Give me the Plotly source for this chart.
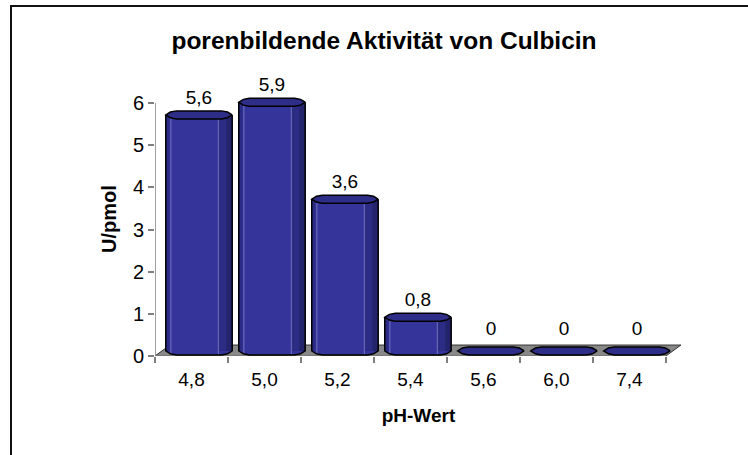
import plotly.graph_objects as go

categories = ["4,8", "5,0", "5,2", "5,4", "5,6", "6,0", "7,4"]
values = [5.6, 5.9, 3.6, 0.8, 0, 0, 0]
value_labels = ["5,6", "5,9", "3,6", "0,8", "0", "0", "0"]
y_ticks = [0, 1, 2, 3, 4, 5, 6]

title_text = "porenbildende Aktivität von Culbicin"
x_title = "pH-Wert"
y_title = "U/pmol"

W, H = 748, 455
L, R, T, B = 155, 66, 82, 99
PW, PH = W - L - R, H - T - B

n = len(categories)
idx = list(range(n))
x_lo, x_hi = -0.5, n - 0.5
DX, DY = 0.205, 0.26          # depth of the 3D floor (data units)
CDX, CDY = DX / 2, 0.12       # cylinder centre offset in depth
HW = 0.455                    # cylinder half width
EH = 0.095                    # cap half height
y_max = 6.5

FONT = "Liberation Sans, Arial, sans-serif"
MAIN = "#34349a"
DARK1 = "#2c2c84"
DARK2 = "#24246c"
EDGE = "#2b2b86"
CAP = "#2e2e88"
HIL = "#7272c0"

# cap polygon (flattened octagon) in unit coordinates
unit = [(1, 0), (0.86, 0.72), (0.68, 1), (-0.68, 1), (-0.86, 0.72), (-1, 0),
        (-0.86, -0.72), (-0.68, -1), (0.68, -1), (0.86, -0.72), (1, 0)]
lower = [(-1, 0), (-0.86, -0.72), (-0.68, -1), (0.68, -1), (0.86, -0.72), (1, 0)]

fig = go.Figure()

# body of the cylinders
fig.add_trace(go.Bar(x=idx, y=values, base=CDY, offset=CDX - HW, width=2 * HW,
                     marker=dict(color=MAIN, line=dict(width=0)), hoverinfo="skip"))
fig.add_trace(go.Bar(x=idx, y=values, base=CDY, offset=CDX - HW, width=0.05,
                     marker=dict(color=EDGE, line=dict(width=0)), hoverinfo="skip"))
fig.add_trace(go.Bar(x=idx, y=values, base=CDY, offset=CDX + HW - 0.19, width=0.19,
                     marker=dict(color=DARK1, line=dict(width=0)), hoverinfo="skip"))
fig.add_trace(go.Bar(x=idx, y=values, base=CDY, offset=CDX + HW - 0.08, width=0.08,
                     marker=dict(color=DARK2, line=dict(width=0)), hoverinfo="skip"))

# lower rounded edge fill, outline, highlights, caps
fill_x, fill_y = [], []
out_x, out_y = [], []
hi_x, hi_y = [], []
cap_x, cap_y = [], []
for i, v in zip(idx, values):
    cx = i + CDX
    top = v + CDY
    cap_x += [cx + u * HW for u, _ in unit] + [None]
    cap_y += [top + w * EH for _, w in unit] + [None]
    if v <= 0:
        continue
    fill_x += [cx + u * HW for u, _ in lower] + [None]
    fill_y += [CDY + w * EH for _, w in lower] + [None]
    out_x += [cx - HW, cx - HW] + [cx + u * HW for u, _ in lower] + [cx + HW, None]
    out_y += [top, CDY] + [CDY + w * EH for _, w in lower] + [top, None]
    for hx in (cx - HW + 0.07, cx + HW - 0.19):
        hi_x += [hx, hx, None]
        hi_y += [CDY - EH * 0.85, top - EH * 0.9, None]

fig.add_trace(go.Scatter(x=fill_x, y=fill_y, mode="lines", fill="toself",
                         fillcolor=MAIN, line=dict(width=0, color=MAIN),
                         hoverinfo="skip"))
fig.add_trace(go.Scatter(x=hi_x, y=hi_y, mode="lines",
                         line=dict(width=1, color=HIL), hoverinfo="skip"))
fig.add_trace(go.Scatter(x=out_x, y=out_y, mode="lines",
                         line=dict(width=1.5, color="#000000"), hoverinfo="skip"))
fig.add_trace(go.Scatter(x=cap_x, y=cap_y, mode="lines", fill="toself",
                         fillcolor=CAP, line=dict(width=1.5, color="#000000"),
                         hoverinfo="skip"))

# value labels
lab_y = [v + (0.5 if v > 0 else 0.6) for v in values]
fig.add_trace(go.Scatter(x=[i + CDX for i in idx], y=lab_y, mode="text",
                         text=value_labels, textposition="middle center",
                         textfont=dict(family=FONT, size=19, color="#000"),
                         cliponaxis=False, hoverinfo="skip"))

# floor and axis lines as background shapes
floor_path = (f"M {x_lo},0 L {x_hi},0 L {x_hi + DX},{DY} L {x_lo + DX},{DY} Z")
shapes = [
    dict(type="path", path=floor_path, xref="x", yref="y", layer="below",
         fillcolor="#888888", line=dict(color="#333333", width=1)),
    dict(type="line", xref="x", yref="y", x0=x_lo, x1=x_hi, y0=0, y1=0,
         layer="below", line=dict(color="#808080", width=1.5)),
    dict(type="line", xref="x", yref="y", x0=x_lo, x1=x_lo, y0=0, y1=y_ticks[-1],
         layer="below", line=dict(color="#808080", width=1.5)),
    # outer frame
    dict(type="rect", xref="paper", yref="paper",
         x0=(11 - L) / PW, x1=(W + 20 - L) / PW,
         y0=(H - B - (H + 20)) / PH, y1=(H - B - 6) / PH,
         line=dict(color="#111111", width=2), fillcolor="rgba(0,0,0,0)"),
]

fig.update_layout(
    width=W, height=H,
    margin=dict(l=L, r=R, t=T, b=B, autoexpand=False),
    paper_bgcolor="white", plot_bgcolor="white",
    showlegend=False, barmode="overlay",
    font=dict(family=FONT, size=20, color="#000"),
    title=dict(text=f"<b>{title_text}</b>", x=384 / W, xanchor="center",
               y=1 - 40 / H, yanchor="middle",
               font=dict(family=FONT, size=24.5, color="#000")),
    shapes=shapes,
    xaxis=dict(range=[x_lo, x_hi + DX + 0.015], showgrid=False, zeroline=False,
               showline=False, tickmode="array", tickvals=idx, ticktext=categories,
               ticks="", ticklabelstandoff=10, tickfont=dict(size=19),
               minor=dict(tickmode="array", tickvals=[x_lo + k for k in range(n + 1)],
                          ticks="outside", ticklen=6, tickcolor="#808080", tickwidth=1.5),
               title=dict(text=f"<b>{x_title}</b>", standoff=19,
                          font=dict(size=19)),
               fixedrange=True),
    yaxis=dict(range=[0, y_max], showgrid=False, zeroline=False, showline=False,
               tickmode="array", tickvals=y_ticks, ticktext=[str(t) for t in y_ticks],
               ticks="outside", ticklen=6, tickcolor="#808080", tickwidth=1.5,
               tickfont=dict(size=20),
               title=dict(text=f"<b>{y_title}</b>", standoff=10, font=dict(size=20)),
               fixedrange=True),
)

fig.write_html("out.html", config={"displayModeBar": False},
               post_script="document.body.style.margin='0px';document.body.style.overflow='hidden';")
